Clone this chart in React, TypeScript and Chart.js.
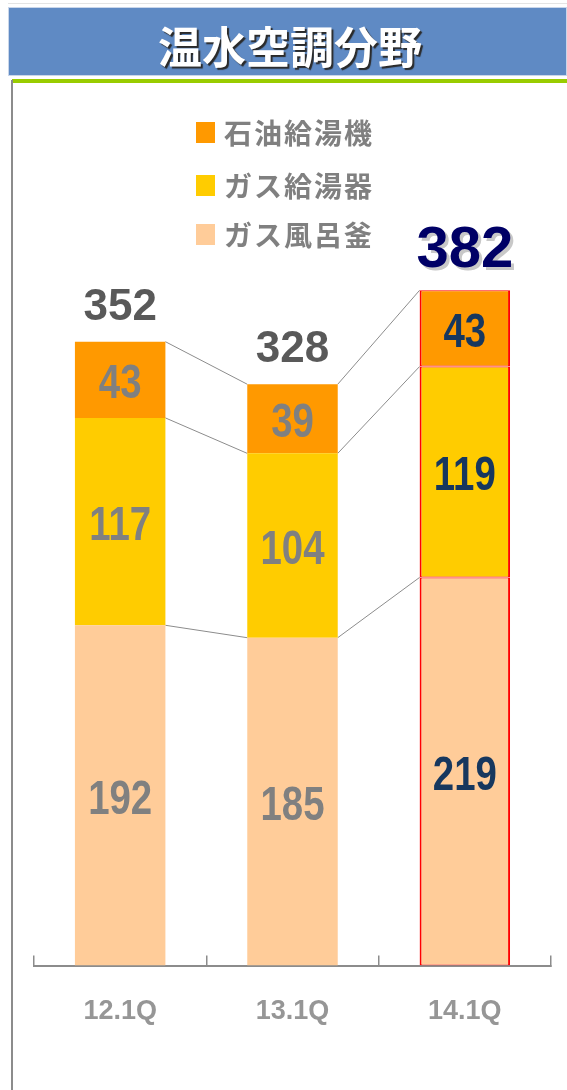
import React, { useEffect, useRef } from "react";
import { Chart, registerables } from "chart.js";

Chart.register(...registerables);

const TITLE = "温水空調分野";
const categories = ["12.1Q", "13.1Q", "14.1Q"];
const seriesNames = ["ガス風呂釜", "ガス給湯器", "石油給湯機"];
const seriesColors = ["#FFCC99", "#FFCC00", "#FF9900"];
const furoValues = [192, 185, 219];
const kyutokiValues = [117, 104, 119];
const sekiyuValues = [43, 39, 43];
const totals = [352, 328, 382];
const highlightIndex = 2;

const SANS = "'Liberation Sans', Arial, sans-serif";
const CJK = "'Noto Sans CJK JP', 'Noto Sans', sans-serif";

function narrowText(ctx: CanvasRenderingContext2D, text: string, x: number, y: number, sx: number) {
  ctx.save();
  ctx.translate(x, y);
  ctx.scale(sx, 1);
  ctx.fillText(text, 0, 0);
  ctx.restore();
}

const connectorPlugin = {
  id: "connectors",
  beforeDatasetsDraw(chart: any) {
    const ctx = chart.ctx;
    ctx.save();
    ctx.strokeStyle = "#8c8c8c";
    ctx.lineWidth = 1;
    chart.data.datasets.forEach((_: any, di: number) => {
      const meta = chart.getDatasetMeta(di);
      for (let j = 0; j < meta.data.length - 1; j++) {
        const a = meta.data[j];
        const b = meta.data[j + 1];
        ctx.beginPath();
        ctx.moveTo(a.x + a.width / 2, a.y);
        ctx.lineTo(b.x - b.width / 2, b.y);
        ctx.stroke();
      }
    });
    ctx.restore();
  },
};

const labelPlugin = {
  id: "valueLabels",
  afterDatasetsDraw(chart: any) {
    const ctx = chart.ctx;
    ctx.save();
    ctx.textAlign = "center";
    ctx.textBaseline = "middle";
    chart.data.datasets.forEach((ds: any, di: number) => {
      const meta = chart.getDatasetMeta(di);
      meta.data.forEach((el: any, j: number) => {
        const cy = (el.y + el.base) / 2;
        ctx.font = `bold 48px ${SANS}`;
        ctx.fillStyle = j === highlightIndex ? "#17375E" : "#808080";
        narrowText(ctx, String(ds.data[j]), el.x, cy + 5, 0.8);
      });
    });
    const topMeta = chart.getDatasetMeta(chart.data.datasets.length - 1);
    topMeta.data.forEach((el: any, j: number) => {
      if (j === highlightIndex) {
        ctx.font = `bold 58px ${SANS}`;
        ctx.fillStyle = "#c8c8c8";
        ctx.fillText(String(totals[j]), el.x + 3, el.y - 39 + 3);
        ctx.fillStyle = "#000066";
        ctx.fillText(String(totals[j]), el.x, el.y - 39);
      } else {
        ctx.font = `bold 44px ${SANS}`;
        ctx.fillStyle = "#595959";
        ctx.fillText(String(totals[j]), el.x, el.y - 34);
      }
    });
    ctx.restore();
  },
};

export default function App() {
  const ref = useRef<HTMLCanvasElement | null>(null);

  useEffect(() => {
    if (!ref.current) return;
    const values = [furoValues, kyutokiValues, sekiyuValues];
    const chart = new Chart(ref.current, {
      type: "bar",
      data: {
        labels: categories,
        datasets: values.map((v, i) => ({
          label: seriesNames[i],
          data: v,
          backgroundColor: seriesColors[i],
          borderColor: categories.map((_, j) => (j === highlightIndex ? "#FF0000" : "rgba(0,0,0,0)")),
          borderWidth: (c: any) =>
            c.dataIndex === highlightIndex ? { top: 1, bottom: 1, left: 2, right: 2 } : 0,
          borderSkipped: false,
          barPercentage: 0.525,
          categoryPercentage: 1,
        })),
      },
      options: {
        responsive: false,
        animation: false,
        devicePixelRatio: 1,
        layout: { padding: { left: 34, right: 16, top: 168, bottom: 22 } },
        plugins: {
          legend: { display: false },
          tooltip: { enabled: false },
          title: { display: false },
        },
        scales: {
          x: {
            stacked: true,
            offset: true,
            grid: {
              offset: true,
              drawOnChartArea: false,
              drawTicks: true,
              tickLength: -10,
              color: "#8c8c8c",
              lineWidth: 1.5,
            },
            border: { display: true, color: "#8c8c8c", width: 2 },
            ticks: {
              color: "#969696",
              padding: 40,
              font: { family: SANS, size: 27, weight: "bold" },
            },
          },
          y: {
            stacked: true,
            display: false,
            min: 0,
            max: 450,
          },
        },
      },
      plugins: [connectorPlugin, labelPlugin],
    });
    return () => chart.destroy();
  }, []);

  const legendItems = [2, 1, 0];
  const legendTops = [121, 174, 223];

  return (
    <div
      style={{
        position: "absolute",
        left: 0,
        top: 0,
        width: 567,
        height: 1090,
        background: "#ffffff",
        overflow: "hidden",
      }}
    >
      <canvas
        ref={ref}
        width={567}
        height={1090}
        style={{ position: "absolute", left: 0, top: 0, width: 567, height: 1090 }}
      />
      <div style={{ position: "absolute", left: 8, top: 3, width: 559, height: 1, background: "#e4e4e4" }} />
      <div
        style={{
          position: "absolute",
          left: 8,
          top: 7,
          width: 559,
          height: 69,
          background: "#5F8AC4",
          boxShadow: "inset 0 0 0 1px #c9d6ea",
          display: "flex",
          alignItems: "center",
          justifyContent: "center",
          paddingLeft: 5,
          boxSizing: "border-box",
        }}
      >
        <span
          style={{
            fontFamily: CJK,
            fontWeight: 700,
            fontSize: 44,
            color: "#ffffff",
            lineHeight: 1,
            marginTop: 6,
            textShadow: "2px 2px 1px #2a2a2a",
          }}
        >
          {TITLE}
        </span>
      </div>
      <div style={{ position: "absolute", left: 12, top: 79, width: 555, height: 4, background: "#99CC00" }} />
      <div style={{ position: "absolute", left: 11, top: 80, width: 2, height: 1010, background: "#8c8c8c" }} />
      {legendItems.map((si, k) => (
        <div
          key={si}
          style={{
            position: "absolute",
            left: 196,
            top: legendTops[k],
            height: 22,
            display: "flex",
            alignItems: "center",
          }}
        >
          <div style={{ width: 19, height: 21, background: seriesColors[si] }} />
          <span
            style={{
              marginLeft: 9,
              fontFamily: CJK,
              fontWeight: 700,
              fontSize: 28,
              lineHeight: 1,
              color: "#808080",
              letterSpacing: 2,
              whiteSpace: "nowrap",
            }}
          >
            {seriesNames[si]}
          </span>
        </div>
      ))}
    </div>
  );
}
